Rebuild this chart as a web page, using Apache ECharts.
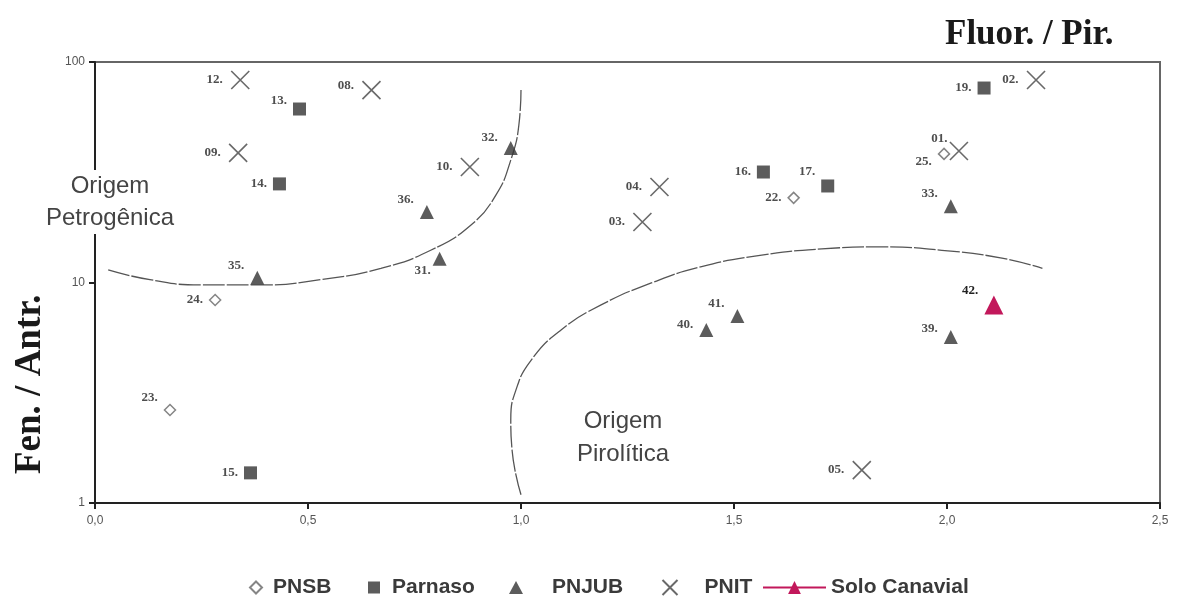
<!DOCTYPE html>
<html>
<head>
<meta charset="utf-8">
<script src="https://cdn.jsdelivr.net/npm/echarts@6/dist/echarts.min.js"></script>
<style>
html,body{margin:0;padding:0;background:#fff;}
#chart{width:1183px;height:610px;}
</style>
</head>
<body>
<div id="chart"></div>
<script>
// data: [Fluor./Pir., Fen./Antr.]
var pnsbNames = ['24.', '23.', '22.', '25.'];
var pnsbX = [0.282, 0.176, 1.640, 1.993];
var pnsbY = [8.33, 2.64, 24.2, 38.3];

var parnasoNames = ['13.', '14.', '15.', '16.', '17.', '19.'];
var parnasoX = [0.480, 0.433, 0.365, 1.569, 1.720, 2.087];
var parnasoY = [61.2, 28.0, 1.37, 31.7, 27.4, 76.2];

var pnjubNames = ['32.', '36.', '35.', '31.', '33.', '40.', '41.', '39.'];
var pnjubX = [0.976, 0.779, 0.381, 0.809, 2.009, 1.435, 1.508, 2.009];
var pnjubY = [40.7, 20.9, 10.5, 12.8, 22.2, 6.09, 7.05, 5.66];

var pnitNames = ['12.', '08.', '09.', '10.', '04.', '03.', '01.', '02.', '05.'];
var pnitX = [0.341, 0.649, 0.336, 0.880, 1.325, 1.285, 2.028, 2.209, 1.800];
var pnitY = [82.9, 74.6, 38.7, 33.4, 27.1, 18.8, 39.5, 82.9, 1.41];

var soloNames = ['42.'];
var soloX = [2.11];
var soloY = [7.91];

// boundary curves
var petroX = [0.031, 0.129, 0.247, 0.388, 0.529, 0.671, 0.788, 0.882, 0.941, 0.976, 0.995, 1.0];
var petroY = [11.4, 10.3, 9.75, 9.75, 10.3, 11.6, 14.0, 18.2, 24.9, 35.9, 51.8, 74.6];
var piroX = [1.0, 0.979, 0.976, 0.988, 1.024, 1.094, 1.188, 1.306, 1.424, 1.565, 1.706, 1.847, 1.988, 2.129, 2.224];
var piroY = [1.09, 1.74, 2.38, 3.25, 4.45, 6.09, 7.91, 9.95, 11.8, 13.3, 14.2, 14.5, 14.0, 12.9, 11.6];

var xTickLabels = ['0,0', '0,5', '1,0', '1,5', '2,0', '2,5'];

// label nudges (style only)
var labelOffset = {
	'13.': [0, -8], '08.': [0, -4], '32.': [0, -10], '36.': [0, -12], '35.': [0, -12],
	'31.': [4, 12], '23.': [0, -12], '17.': [0, -14], '01.': [6, -12], '25.': [0, 8],
	'33.': [0, -12], '42.': [0, -14], '39.': [0, -8], '40.': [0, -5], '41.': [0, -12]
};

function pts(names, xs, ys){
	var out = [];
	for (var i = 0; i < xs.length; i++) {
		var item = {name: names[i], value: [xs[i], ys[i]]};
		if (labelOffset[names[i]]) {
			item.label = {offset: labelOffset[names[i]]};
		}
		out.push(item);
	}
	return out;
}
function line(xs, ys){
	var out = [];
	for (var i = 0; i < xs.length; i++) out.push([xs[i], ys[i]]);
	return out;
}
function extend(a, b){
	var o = {}, k;
	for (k in a) o[k] = a[k];
	for (k in b) o[k] = b[k];
	return o;
}

var ptLabel = {
	show: true,
	position: 'left',
	distance: 6,
	formatter: '{b}',
	fontFamily: 'Liberation Serif',
	fontWeight: 'bold',
	fontSize: 13,
	color: '#222'
};
var crossPath = 'path://M0,0L10,10M10,0L0,10';
var legendText = {fontFamily: 'Liberation Sans', fontWeight: 'bold', fontSize: 21, color: '#3a3a3a'};

// one legend box per item so the irregular spacing of the original can be kept
function legendItem(name, left, w, h, pad){
	return {
		data: [name], left: left, top: 572, itemWidth: w, itemHeight: h,
		selectedMode: false,
		textStyle: extend(legendText, {padding: [0, 0, 0, pad]})
	};
}

var chart = echarts.init(document.getElementById('chart'));
var option = {
	animation: false,
	backgroundColor: '#fff',
	grid: {left: 95, right: 23, top: 62, bottom: 107, show: true, borderColor: '#666', borderWidth: 2},
	xAxis: {
		type: 'value', min: 0, max: 2.5, interval: 0.5,
		axisLine: {show: true, lineStyle: {color: '#222', width: 2}},
		axisTick: {show: true, length: 6, lineStyle: {color: '#222', width: 2}},
		splitLine: {show: false},
		axisLabel: {
			color: '#555', fontFamily: 'Liberation Sans', fontSize: 12, margin: 12,
			formatter: function(v){ return xTickLabels[Math.round(v / 0.5)]; }
		}
	},
	yAxis: {
		type: 'log', logBase: 10, min: 1, max: 100,
		axisLine: {show: true, lineStyle: {color: '#222', width: 2}},
		axisTick: {show: true, length: 6, lineStyle: {color: '#222', width: 2}},
		minorTick: {show: false},
		splitLine: {show: false},
		axisLabel: {color: '#555', fontFamily: 'Liberation Sans', fontSize: 12, margin: 10}
	},
	legend: [
		legendItem('PNSB', 244, 12, 12, 6),
		legendItem('Parnaso', 363, 12, 12, 7),
		legendItem('PNJUB', 504, 14, 13, 24),
		legendItem('PNIT', 655, 15, 15, 22),
		legendItem('Solo Canavial', 757, 63, 16, 0)
	],
	graphic: [
		{type: 'text', left: 945, top: 17, style: {text: 'Fluor. / Pir.', font: 'bold 35px "Liberation Serif"', fill: '#1a1a1a'}},
		{type: 'text', x: 12, y: 474, rotation: Math.PI / 2, style: {text: 'Fen. / Antr.', font: 'bold 37px "Liberation Serif"', fill: '#1a1a1a'}},
		{type: 'text', x: 110, y: 170, z: 50, style: {text: 'Origem\nPetrogênica', font: '24px "Liberation Sans"', lineHeight: 32, align: 'center', fill: '#444', backgroundColor: '#fff'}},
		{type: 'text', x: 623, y: 405, z: 50, style: {text: 'Origem\nPirolítica', font: '24px "Liberation Sans"', lineHeight: 33, align: 'center', fill: '#444', backgroundColor: '#fff'}}
	],
	series: [
		{
			name: 'petro', type: 'line', smooth: 0.5, symbol: 'none', silent: true, z: 1,
			lineStyle: {color: '#555', width: 1.3, type: [22, 2]},
			data: line(petroX, petroY)
		},
		{
			name: 'piro', type: 'line', smooth: 0.5, symbol: 'none', silent: true, z: 1,
			lineStyle: {color: '#555', width: 1.3, type: [22, 2]},
			data: line(piroX, piroY)
		},
		{
			name: 'PNSB', type: 'scatter', symbol: 'diamond', symbolSize: 11, z: 3,
			itemStyle: {color: '#fff', borderColor: '#666', borderWidth: 1.5},
			label: ptLabel, data: pts(pnsbNames, pnsbX, pnsbY)
		},
		{
			name: 'Parnaso', type: 'scatter', symbol: 'rect', symbolSize: 13, z: 3,
			itemStyle: {color: '#333'},
			label: ptLabel, data: pts(parnasoNames, parnasoX, parnasoY)
		},
		{
			name: 'PNJUB', type: 'scatter', symbol: 'triangle', symbolSize: 14, z: 3,
			itemStyle: {color: '#333'},
			label: ptLabel, data: pts(pnjubNames, pnjubX, pnjubY)
		},
		{
			name: 'PNIT', type: 'scatter', symbol: crossPath, symbolSize: 18, z: 3,
			itemStyle: {color: 'none', borderColor: '#444', borderWidth: 1.6},
			label: ptLabel, data: pts(pnitNames, pnitX, pnitY)
		},
		{
			name: 'Solo Canavial', type: 'line', symbol: 'triangle', symbolSize: 19, z: 3,
			itemStyle: {color: '#c2185b'},
			lineStyle: {color: '#c2185b', width: 2},
			label: ptLabel, data: pts(soloNames, soloX, soloY)
		}
	]
};
chart.setOption(option);
</script>
</body>
</html>
